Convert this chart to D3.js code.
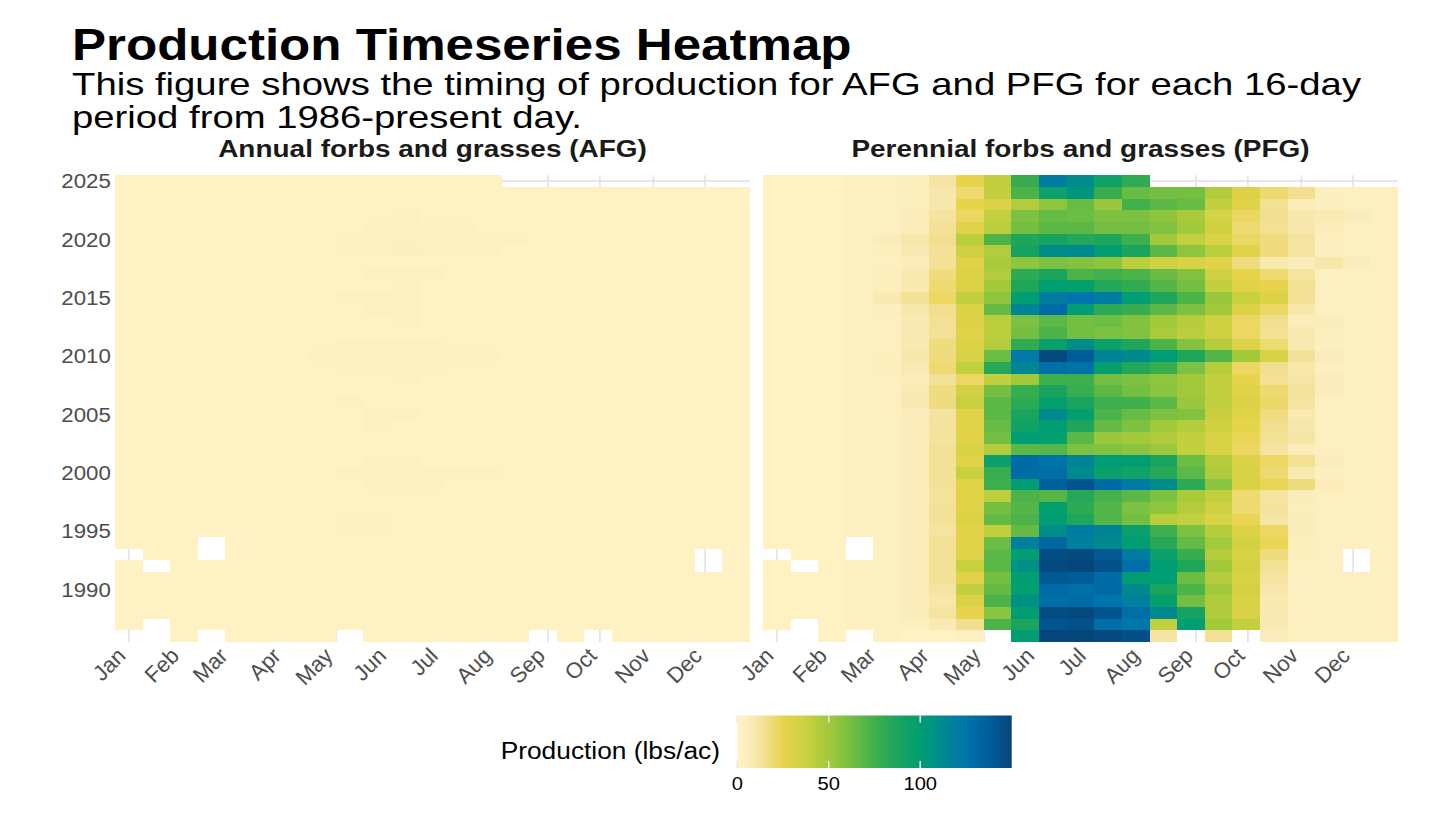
<!DOCTYPE html>
<html>
<head>
<meta charset="utf-8">
<script src="https://cdn.jsdelivr.net/npm/d3@7"></script>
<style>
  body { margin: 0; background: #fff; }
  svg { font-family: "Liberation Sans", Arial, Helvetica, sans-serif; }
</style>
</head>
<body>
<div id="chart"></div>
<script>
// day of year on which each 16-day period starts
const periodStart = [1, 17, 33, 49, 65, 81, 97, 113, 129, 145, 161, 177, 193, 209, 225, 241, 257, 273, 289, 305, 321, 337, 353];

const years = [1986, 1987, 1988, 1989, 1990, 1991, 1992, 1993, 1994, 1995,
  1996, 1997, 1998, 1999, 2000, 2001, 2002, 2003, 2004, 2005,
  2006, 2007, 2008, 2009, 2010, 2011, 2012, 2013, 2014, 2015,
  2016, 2017, 2018, 2019, 2020, 2021, 2022, 2023, 2024, 2025];

const yearTicks = [1990, 1995, 2000, 2005, 2010, 2015, 2020, 2025];
const legendTicks = [0, 50, 100];

// perennial forbs and grasses, lbs/ac, one row per year (1986 first), null = no image
const pfgValues = [
  [null, null, 2, null, 3, 2, 2, 3, null, 100, 150, 150, 148, 145, 12, null, 14, null, 5, 3, 3, 3, 3],
  [2, null, 2, 3, 3, 4, 8, 16, 72, 88, 142, 144, 128, 124, 40, 100, 50, 40, 8, 3, 3, 3, 3],
  [2, 2, 2, 3, 3, 5, 12, 25, 56, 100, 146, 148, 142, 128, 112, 90, 46, 32, 8, 3, 3, 3, 3],
  [2, 2, 2, 3, 3, 5, 10, 30, 72, 108, 128, 130, 125, 118, 98, 62, 46, 32, 9, 3, 3, 3, 3],
  [2, 2, 2, 3, 3, 5, 12, 40, 66, 98, 130, 128, 130, 112, 88, 72, 50, 34, 10, 3, 3, 3, 3],
  [2, 2, 2, 3, 3, 5, 14, 28, 62, 100, 140, 138, 130, 100, 100, 64, 44, 32, 12, 3, 3, 3, 3],
  [2, null, 2, 3, 3, 5, 14, 38, 68, 108, 148, 150, 144, 128, 100, 86, 50, 34, 15, 3, 3, null, 3],
  [null, 2, 2, null, 3, 5, 14, 28, 68, 100, 146, 148, 140, 120, 96, 78, 44, 32, 18, 4, 3, null, 3],
  [2, 2, 2, null, 3, 5, 14, 28, 64, 118, 132, 118, 112, 100, 84, 66, 50, 34, 24, 4, 3, 3, 3],
  [2, 2, 2, 3, 3, 5, 12, 28, 40, 66, 110, 120, 116, 96, 76, 60, 44, 30, 22, 5, 3, 3, 3],
  [2, 2, 2, 3, 3, 5, 14, 30, 66, 72, 100, 86, 70, 62, 42, 40, 32, 24, 11, 5, 3, 3, 3],
  [2, 2, 2, 3, 3, 5, 14, 28, 62, 70, 98, 82, 70, 60, 55, 44, 36, 20, 13, 4, 3, 3, 3],
  [2, 2, 2, 3, 3, 5, 13, 28, 42, 72, 70, 84, 74, 68, 60, 48, 40, 20, 12, 5, 3, 3, 3],
  [2, 2, 2, 3, 3, 5, 14, 28, 76, 100, 136, 142, 130, 122, 110, 82, 56, 32, 24, 18, 6, 3, 3],
  [2, 2, 2, 3, 3, 5, 14, 38, 78, 130, 128, 112, 96, 92, 84, 68, 46, 32, 20, 8, 3, 3, 3],
  [2, 2, 2, 3, 3, 5, 14, 28, 96, 130, 126, 115, 102, 100, 88, 64, 44, 30, 22, 15, 5, 3, 3],
  [2, 2, 2, 3, 3, 5, 14, 32, 45, 68, 70, 60, 58, 56, 52, 40, 32, 22, 12, 6, 3, 3, 3],
  [2, 2, 2, 3, 3, 5, 13, 28, 62, 100, 98, 68, 52, 50, 46, 40, 32, 24, 15, 11, 3, 3, 3],
  [2, 2, 2, 3, 3, 5, 13, 28, 65, 92, 100, 86, 66, 60, 50, 44, 35, 26, 16, 10, 3, 3, 3],
  [2, 2, 2, 3, 3, 5, 12, 28, 68, 88, 112, 98, 72, 65, 60, 58, 38, 28, 18, 9, 3, 3, 3],
  [2, 2, 2, 3, 3, 8, 18, 38, 68, 82, 98, 88, 76, 76, 68, 52, 40, 30, 21, 12, 3, 3, 3],
  [2, 2, 2, 3, 3, 8, 18, 34, 62, 78, 88, 78, 68, 62, 56, 50, 40, 28, 20, 13, 5, 3, 3],
  [2, 2, 2, 3, 3, 6, 14, 22, 40, 50, 76, 76, 62, 60, 55, 50, 40, 25, 15, 11, 5, 3, 3],
  [2, 2, 2, 3, 4, 8, 20, 40, 84, 115, 128, 126, 98, 85, 78, 60, 44, 22, 16, 10, 3, 3, 3],
  [2, 2, 2, 3, 4, 10, 18, 32, 64, 122, 148, 138, 115, 112, 102, 86, 70, 50, 32, 14, 5, 3, 3],
  [2, 2, 2, 3, 3, 8, 18, 30, 45, 80, 96, 110, 95, 86, 72, 58, 44, 30, 20, 8, 3, 3, 3],
  [2, 2, 2, 3, 3, 8, 14, 28, 42, 62, 72, 62, 60, 58, 48, 42, 35, 22, 15, 9, 4, 3, 3],
  [2, 2, 2, 3, 3, 8, 15, 30, 42, 60, 68, 62, 64, 58, 50, 44, 36, 22, 16, 5, 5, 3, 3],
  [2, 2, 2, 3, 4, 10, 16, 30, 66, 115, 130, 100, 82, 78, 68, 60, 50, 30, 22, 10, 3, 3, 3],
  [2, 2, 2, 3, 8, 14, 22, 40, 55, 100, 120, 125, 120, 100, 86, 72, 52, 38, 30, 14, 3, 3, 3],
  [2, 2, 2, 3, 4, 9, 20, 30, 50, 86, 100, 98, 85, 80, 70, 62, 40, 28, 25, 15, 3, 3, 3],
  [2, 2, 2, 3, 4, 9, 18, 30, 45, 82, 88, 72, 75, 72, 65, 58, 35, 25, 20, 12, 3, 3, 3],
  [2, 2, 2, 3, 3, 6, 14, 28, 48, 55, 60, 58, 55, 42, 35, 32, 28, 18, 9, 5, 10, 5, 3],
  [2, 2, 2, 3, 4, 8, 14, 35, 45, 90, 110, 112, 100, 88, 68, 55, 42, 28, 18, 12, 4, 3, 3],
  [2, 2, 2, 3, 6, 10, 16, 42, 72, 86, 90, 85, 86, 76, 50, 40, 32, 22, 18, 12, 4, 3, 3],
  [2, 2, 2, 3, 3, 6, 14, 28, 42, 62, 68, 68, 62, 62, 58, 50, 35, 20, 15, 10, 6, 3, 3],
  [2, 2, 2, 3, 3, 5, 12, 22, 40, 60, 66, 64, 60, 60, 55, 48, 33, 22, 16, 10, 8, 5, 3],
  [2, 2, 2, 3, 3, 4, 10, 26, 30, 45, 55, 65, 52, 75, 68, 65, 40, 28, 15, 6, 4, 3, 3],
  [2, 2, 2, 3, 3, 4, 10, 20, 40, 72, 95, 105, 78, 65, 62, 62, 45, 30, 20, 16, 4, 3, 3],
  [2, 2, 2, 3, 3, 4, 12, 25, 40, 78, 120, 110, 92, 80, null, null, null, null, null, null, null, null, null]
];

// annual forbs and grasses, lbs/ac, same layout
const afgValues = [
  [null, null, 1, null, 1, 1, 1, 1, null, 2, 2, 2, 2, 2, 1, null, 1, null, 1, 1, 1, 1, 1],
  [1, null, 1, 1, 1, 1, 1, 1, 2, 2, 2, 2, 2, 2, 1, 1, 1, 1, 1, 1, 1, 1, 1],
  [1, 1, 1, 1, 1, 1, 1, 2, 2, 2, 2, 2, 2, 2, 1, 1, 1, 1, 1, 1, 1, 1, 1],
  [1, 1, 1, 1, 1, 1, 1, 2, 2, 2, 2, 2, 2, 2, 1, 1, 1, 1, 1, 1, 1, 1, 1],
  [1, 1, 1, 1, 1, 1, 1, 2, 2, 2, 2, 2, 2, 2, 1, 1, 1, 1, 1, 1, 1, 1, 1],
  [1, 1, 1, 1, 1, 1, 1, 2, 2, 2, 2, 2, 2, 2, 1, 1, 1, 1, 1, 1, 1, 1, 1],
  [1, null, 1, 1, 1, 1, 1, 2, 2, 2, 2, 2, 2, 2, 1, 1, 1, 1, 1, 1, 1, null, 1],
  [null, 1, 1, null, 1, 1, 1, 2, 2, 2, 2, 2, 2, 2, 1, 1, 1, 1, 1, 1, 1, null, 1],
  [1, 1, 1, null, 1, 1, 1, 2, 2, 2, 2, 2, 2, 2, 1, 1, 1, 1, 1, 1, 1, 1, 1],
  [1, 1, 1, 1, 1, 1, 1, 2, 3, 3, 2, 2, 2, 2, 1, 1, 1, 1, 1, 1, 1, 1, 1],
  [1, 1, 1, 1, 1, 1, 2, 2, 3, 3, 2, 2, 2, 2, 2, 1, 1, 1, 1, 1, 1, 1, 1],
  [1, 1, 1, 1, 1, 1, 2, 2, 2, 2, 2, 2, 2, 2, 2, 1, 1, 1, 1, 1, 1, 1, 1],
  [1, 1, 1, 1, 1, 1, 2, 2, 2, 2, 2, 2, 2, 2, 2, 1, 1, 1, 1, 1, 1, 1, 1],
  [1, 1, 1, 1, 1, 1, 2, 2, 2, 3, 3, 3, 2, 2, 2, 2, 1, 1, 1, 1, 1, 1, 1],
  [1, 1, 1, 1, 1, 1, 2, 2, 3, 3, 3, 3, 3, 3, 2, 2, 1, 1, 1, 1, 1, 1, 1],
  [1, 1, 1, 1, 1, 1, 2, 2, 2, 3, 3, 2, 2, 2, 2, 2, 1, 1, 1, 1, 1, 1, 1],
  [1, 1, 1, 1, 1, 1, 2, 2, 2, 2, 2, 2, 2, 2, 2, 1, 1, 1, 1, 1, 1, 1, 1],
  [1, 1, 1, 1, 1, 1, 2, 2, 2, 2, 2, 2, 2, 2, 2, 1, 1, 1, 1, 1, 1, 1, 1],
  [1, 1, 1, 1, 1, 1, 2, 2, 2, 3, 2, 2, 2, 2, 2, 1, 1, 1, 1, 1, 1, 1, 1],
  [1, 1, 1, 1, 1, 1, 2, 2, 2, 3, 3, 2, 2, 2, 2, 1, 1, 1, 1, 1, 1, 1, 1],
  [1, 1, 1, 1, 1, 1, 2, 2, 3, 2, 2, 2, 2, 2, 2, 1, 1, 1, 1, 1, 1, 1, 1],
  [1, 1, 1, 1, 1, 1, 2, 2, 2, 2, 2, 2, 2, 2, 2, 1, 1, 1, 1, 1, 1, 1, 1],
  [1, 1, 1, 1, 1, 1, 2, 2, 2, 2, 3, 2, 2, 2, 2, 1, 1, 1, 1, 1, 1, 1, 1],
  [1, 1, 1, 1, 1, 1, 2, 2, 3, 3, 3, 3, 2, 2, 2, 2, 1, 1, 1, 1, 1, 1, 1],
  [1, 1, 1, 1, 1, 1, 2, 3, 3, 3, 3, 3, 3, 3, 2, 2, 1, 1, 1, 1, 1, 1, 1],
  [1, 1, 1, 1, 1, 1, 2, 2, 3, 3, 3, 3, 2, 2, 2, 1, 1, 1, 1, 1, 1, 1, 1],
  [1, 1, 1, 1, 1, 1, 2, 2, 2, 2, 2, 2, 2, 2, 2, 1, 1, 1, 1, 1, 1, 1, 1],
  [1, 1, 1, 1, 1, 1, 2, 2, 2, 2, 3, 2, 2, 2, 2, 1, 1, 1, 1, 1, 1, 1, 1],
  [1, 1, 1, 1, 1, 2, 2, 2, 2, 3, 3, 2, 2, 2, 2, 2, 2, 1, 1, 1, 1, 1, 1],
  [1, 1, 1, 1, 1, 2, 2, 2, 3, 3, 3, 2, 2, 2, 2, 2, 2, 1, 1, 1, 1, 1, 1],
  [1, 1, 1, 1, 1, 1, 2, 2, 2, 2, 3, 2, 2, 2, 2, 1, 1, 1, 1, 1, 1, 1, 1],
  [1, 1, 1, 1, 1, 1, 2, 2, 2, 3, 3, 3, 2, 2, 2, 1, 1, 1, 1, 1, 1, 1, 1],
  [1, 1, 1, 1, 1, 1, 2, 2, 2, 2, 2, 2, 2, 2, 2, 1, 1, 1, 1, 1, 1, 1, 1],
  [1, 1, 1, 1, 1, 1, 2, 2, 3, 3, 4, 3, 3, 3, 2, 2, 2, 1, 1, 1, 1, 1, 1],
  [1, 1, 1, 1, 1, 1, 2, 2, 3, 3, 3, 3, 3, 3, 3, 2, 2, 1, 1, 1, 1, 1, 1],
  [1, 1, 1, 1, 1, 1, 2, 2, 2, 3, 3, 3, 3, 2, 2, 2, 1, 1, 1, 1, 1, 1, 1],
  [1, 1, 1, 1, 1, 1, 2, 2, 2, 2, 3, 2, 2, 2, 2, 1, 1, 1, 1, 1, 1, 1, 1],
  [1, 1, 1, 1, 1, 1, 2, 2, 2, 2, 2, 2, 2, 2, 2, 1, 1, 1, 1, 1, 1, 1, 1],
  [1, 1, 1, 1, 1, 1, 1, 2, 2, 2, 2, 2, 2, 2, 1, 1, 1, 1, 1, 1, 1, 1, 1],
  [1, 1, 1, 1, 1, 1, 1, 2, 2, 2, 2, 2, 2, 2, null, null, null, null, null, null, null, null, null]
];

const panels = [
  { title: "Annual forbs and grasses (AFG)", values: afgValues, left: 115 },
  { title: "Perennial forbs and grasses (PFG)", values: pfgValues, left: 763 }
];

// palette
const colorStops = [0, 8, 16, 25, 38, 50, 62, 75, 88, 100, 112, 125, 138, 150];
const colorRange = ["#FFF3C7", "#F9EAB4", "#F1DE8E", "#E8D44C", "#C8D040", "#A2C93A", "#74BF42",
  "#40B04B", "#1AA45E", "#009E72", "#008A8E", "#0074AC", "#005C98", "#05467A"];

const width = 1456, height = 813;
const panelWidth = 635;
const plotTop = 175.3, plotBottom = 642;
const axisGrey = "#4D4D4D";
const gridColor = "#E2E2E8";

const svg = d3.select("#chart").append("svg")
  .attr("width", width)
  .attr("height", height);

const doyDate = (d) => new Date(Date.UTC(2001, 0, d));
const color = d3.scaleLinear().domain(colorStops).range(colorRange).clamp(true);
const y = d3.scaleLinear().domain([2025.5, 1985.5]).range([plotTop, plotBottom]);

// the reference text is set a little wider than the font, so stretch it sideways
function stretchText(g, x, yPos, sx) {
  return g.append("text").attr("transform", `translate(${x},${yPos}) scale(${sx},1)`);
}

// titles
stretchText(svg, 72, 60, 1.135)
  .style("font-size", "45px")
  .style("font-weight", "bold")
  .text("Production Timeseries Heatmap");
stretchText(svg, 72, 95, 1.215)
  .style("font-size", "31.5px")
  .text("This figure shows the timing of production for AFG and PFG for each 16-day");
stretchText(svg, 72, 127.5, 1.215)
  .style("font-size", "31.5px")
  .text("period from 1986-present day.");

panels.forEach((panel, pi) => {
  const x = d3.scaleUtc()
    .domain([doyDate(1 - 8), doyDate(353 + 8)])
    .range([panel.left, panel.left + panelWidth]);

  const g = svg.append("g");

  // grid
  g.append("g")
    .selectAll("line")
    .data(yearTicks)
    .join("line")
    .attr("x1", panel.left)
    .attr("x2", panel.left + panelWidth)
    .attr("y1", (d) => y(d))
    .attr("y2", (d) => y(d))
    .attr("stroke", gridColor)
    .attr("stroke-width", 1.6);

  const months = d3.utcMonth.range(doyDate(1), doyDate(366));
  g.append("g")
    .selectAll("line")
    .data(months)
    .join("line")
    .attr("x1", (d) => x(d))
    .attr("x2", (d) => x(d))
    .attr("y1", plotTop)
    .attr("y2", plotBottom)
    .attr("stroke", gridColor)
    .attr("stroke-width", 1.6);

  // tiles
  const cells = [];
  years.forEach((yr, i) => {
    panel.values[i].forEach((v, k) => {
      if (v !== null) cells.push({ year: yr, start: periodStart[k], value: v });
    });
  });

  g.append("g")
    .attr("shape-rendering", "crispEdges")
    .selectAll("rect")
    .data(cells)
    .join("rect")
    .attr("x", (d) => x(doyDate(d.start - 8)))
    .attr("width", (d) => x(doyDate(d.start + 8)) - x(doyDate(d.start - 8)))
    .attr("y", (d) => y(d.year + 0.5))
    .attr("height", (d) => y(d.year - 0.5) - y(d.year + 0.5))
    .attr("fill", (d) => color(d.value));

  // month labels, rotated 45 degrees and hung from their tick
  g.append("g")
    .selectAll("text")
    .data(months)
    .join("text")
    .attr("transform", (d) => `translate(${x(d) - 13},${plotBottom + 4}) rotate(-45)`)
    .attr("text-anchor", "end")
    .attr("dy", "0.72em")
    .attr("fill", axisGrey)
    .style("font-size", "22px")
    .text(d3.utcFormat("%b"));

  // facet strip
  stretchText(svg, panel.left + panelWidth / 2, 156.5, 1.165)
    .attr("text-anchor", "middle")
    .style("font-size", "24px")
    .style("font-weight", "bold")
    .attr("fill", "#1a1a1a")
    .text(panel.title);

  if (pi === 0) {
    const yAxis = g.append("g")
      .attr("transform", `translate(${panel.left},0)`)
      .call(d3.axisLeft(y).tickValues(yearTicks).tickFormat(d3.format("d")).tickSize(0).tickPadding(4));
    yAxis.select(".domain").remove();
    yAxis.selectAll("text")
      .attr("fill", axisGrey)
      .style("font-size", "21px")
      .style("font-family", "inherit")
      .attr("transform", "scale(1.06,1)");
  }
});

// legend
const maxValue = d3.max(pfgValues.flat());
const legendX = d3.scaleLinear().domain([0, maxValue]).range([737.3, 1011.7]);
const legendTop = 715.5, legendH = 52.5;

const grad = svg.append("defs").append("linearGradient")
  .attr("id", "prodGrad")
  .attr("x1", "0%").attr("x2", "100%").attr("y1", "0%").attr("y2", "0%");
grad.selectAll("stop")
  .data(d3.range(0, 1.0001, 0.02))
  .join("stop")
  .attr("offset", (t) => t * 100 + "%")
  .attr("stop-color", (t) => color(t * maxValue));

svg.append("rect")
  .attr("x", legendX(0))
  .attr("y", legendTop)
  .attr("width", legendX(maxValue) - legendX(0))
  .attr("height", legendH)
  .attr("fill", "url(#prodGrad)");

const legendTickG = svg.append("g");
legendTicks.forEach((t) => {
  [[legendTop, legendTop + 7], [legendTop + legendH - 7, legendTop + legendH]].forEach(([a, b]) => {
    legendTickG.append("line")
      .attr("x1", legendX(t)).attr("x2", legendX(t))
      .attr("y1", a).attr("y2", b)
      .attr("stroke", "#E6E6E6")
      .attr("stroke-width", 1.6);
  });
  stretchText(svg, legendX(t), 790, 1.12)
    .attr("text-anchor", "middle")
    .style("font-size", "18px")
    .text(t);
});

stretchText(svg, 720, 759, 1.12)
  .attr("text-anchor", "end")
  .style("font-size", "23.5px")
  .text("Production (lbs/ac)");
</script>
</body>
</html>
